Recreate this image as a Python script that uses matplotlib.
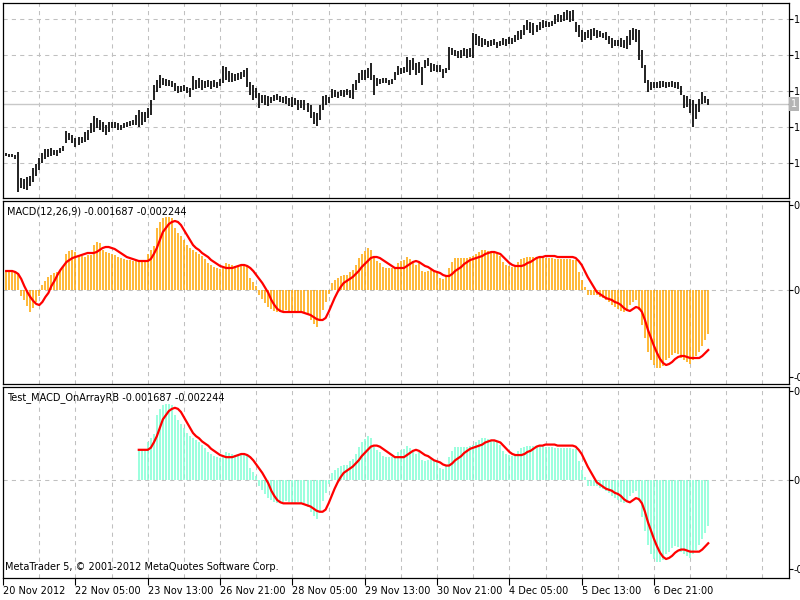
import numpy as np
import matplotlib
matplotlib.use('Agg')
import matplotlib.pyplot as plt

# price bars, one per hour
high = [1.2894, 1.2892, 1.2892, 1.2890, 1.2896, 1.2844, 1.2842, 1.2846, 1.2848, 1.2864,
        1.2872, 1.2884, 1.2894, 1.2902, 1.2902, 1.2904, 1.2900, 1.2900, 1.2904, 1.2908,
        1.2938, 1.2934, 1.2930, 1.2924, 1.2926, 1.2926, 1.2936, 1.2940, 1.2954, 1.2968,
        1.2964, 1.2960, 1.2956, 1.2950, 1.2956, 1.2956, 1.2956, 1.2954, 1.2950, 1.2954,
        1.2956, 1.2958, 1.2960, 1.2970, 1.2980, 1.2976, 1.2976, 1.2984, 1.3000, 1.3030,
        1.3040, 1.3050, 1.3044, 1.3042, 1.3040, 1.3038, 1.3034, 1.3028, 1.3028, 1.3030,
        1.3026, 1.3024, 1.3048, 1.3040, 1.3044, 1.3040, 1.3038, 1.3040, 1.3038, 1.3040,
        1.3036, 1.3042, 1.3068, 1.3066, 1.3058, 1.3054, 1.3052, 1.3054, 1.3056, 1.3060,
        1.3064, 1.3036, 1.3030, 1.3024, 1.3014, 1.3010, 1.3010, 1.3008, 1.3006, 1.3010,
        1.3012, 1.3008, 1.3006, 1.3008, 1.3004, 1.3006, 1.3004, 1.3000, 1.3000, 1.3000,
        1.2994, 1.2990, 1.2976, 1.2974, 1.2990, 1.3008, 1.3010, 1.3006, 1.3022, 1.3020,
        1.3016, 1.3020, 1.3020, 1.3022, 1.3020, 1.3032, 1.3040, 1.3054, 1.3060, 1.3060,
        1.3064, 1.3074, 1.3050, 1.3044, 1.3042, 1.3044, 1.3044, 1.3040, 1.3042, 1.3056,
        1.3068, 1.3064, 1.3066, 1.3086, 1.3080, 1.3084, 1.3074, 1.3076, 1.3066, 1.3080,
        1.3084, 1.3074, 1.3072, 1.3070, 1.3070, 1.3062, 1.3064, 1.3106, 1.3104, 1.3100,
        1.3098, 1.3100, 1.3104, 1.3102, 1.3104, 1.3134, 1.3132, 1.3128, 1.3124, 1.3122,
        1.3118, 1.3120, 1.3122, 1.3116, 1.3118, 1.3124, 1.3122, 1.3126, 1.3124, 1.3130,
        1.3138, 1.3140, 1.3150, 1.3160, 1.3156, 1.3154, 1.3150, 1.3156, 1.3160, 1.3158,
        1.3156, 1.3158, 1.3170, 1.3172, 1.3170, 1.3176, 1.3180, 1.3178, 1.3180, 1.3156,
        1.3150, 1.3140, 1.3136, 1.3140, 1.3142, 1.3144, 1.3140, 1.3138, 1.3134, 1.3136,
        1.3128, 1.3124, 1.3120, 1.3120, 1.3124, 1.3120, 1.3128, 1.3140, 1.3144, 1.3142,
        1.3140, 1.3100, 1.3070, 1.3040, 1.3036, 1.3036, 1.3036, 1.3038, 1.3038, 1.3036,
        1.3036, 1.3038, 1.3036, 1.3036, 1.3028, 1.3010, 1.3008, 1.3002, 1.3000, 1.2992,
        1.3002, 1.3016, 1.3008, 1.3002]
low = [1.2888, 1.2886, 1.2886, 1.2882, 1.2816, 1.2824, 1.2822, 1.2820, 1.2828, 1.2836,
       1.2848, 1.2860, 1.2874, 1.2882, 1.2886, 1.2888, 1.2890, 1.2888, 1.2894, 1.2898,
       1.2914, 1.2920, 1.2914, 1.2906, 1.2910, 1.2914, 1.2916, 1.2920, 1.2934, 1.2936,
       1.2944, 1.2940, 1.2936, 1.2930, 1.2936, 1.2944, 1.2944, 1.2940, 1.2940, 1.2944,
       1.2946, 1.2948, 1.2950, 1.2950, 1.2946, 1.2950, 1.2956, 1.2964, 1.2970, 1.3000,
       1.3016, 1.3024, 1.3030, 1.3028, 1.3028, 1.3026, 1.3018, 1.3014, 1.3016, 1.3018,
       1.3014, 1.3006, 1.3020, 1.3022, 1.3024, 1.3020, 1.3024, 1.3026, 1.3022, 1.3026,
       1.3024, 1.3028, 1.3034, 1.3040, 1.3036, 1.3036, 1.3038, 1.3040, 1.3042, 1.3046,
       1.3026, 1.3010, 1.3000, 1.3004, 1.2984, 1.2994, 1.2990, 1.2988, 1.2994, 1.2998,
       1.3000, 1.2996, 1.2994, 1.2992, 1.2988, 1.2986, 1.2990, 1.2980, 1.2984, 1.2980,
       1.2976, 1.2964, 1.2952, 1.2948, 1.2960, 1.2980, 1.2990, 1.2994, 1.3004, 1.3006,
       1.3004, 1.3008, 1.3006, 1.3010, 1.3004, 1.3002, 1.3020, 1.3034, 1.3040, 1.3040,
       1.3044, 1.3040, 1.3010, 1.3028, 1.3032, 1.3034, 1.3034, 1.3030, 1.3032, 1.3040,
       1.3050, 1.3052, 1.3054, 1.3056, 1.3050, 1.3060, 1.3050, 1.3054, 1.3030, 1.3064,
       1.3068, 1.3056, 1.3058, 1.3056, 1.3056, 1.3044, 1.3054, 1.3060, 1.3090, 1.3088,
       1.3084, 1.3084, 1.3088, 1.3084, 1.3086, 1.3084, 1.3110, 1.3108, 1.3106, 1.3110,
       1.3106, 1.3108, 1.3110, 1.3104, 1.3108, 1.3110, 1.3108, 1.3112, 1.3112, 1.3116,
       1.3120, 1.3122, 1.3130, 1.3140, 1.3134, 1.3130, 1.3136, 1.3140, 1.3144, 1.3146,
       1.3146, 1.3148, 1.3152, 1.3156, 1.3156, 1.3158, 1.3160, 1.3156, 1.3158, 1.3136,
       1.3126, 1.3116, 1.3120, 1.3124, 1.3120, 1.3128, 1.3124, 1.3126, 1.3124, 1.3120,
       1.3112, 1.3104, 1.3108, 1.3108, 1.3106, 1.3104, 1.3102, 1.3110, 1.3120, 1.3116,
       1.3080, 1.3064, 1.3034, 1.3016, 1.3020, 1.3024, 1.3024, 1.3024, 1.3026, 1.3024,
       1.3026, 1.3026, 1.3024, 1.3022, 1.3010, 1.2984, 1.2986, 1.2974, 1.2946, 1.2962,
       1.2976, 1.2992, 1.2994, 1.2990]
bid = 1.2992
price_levels = [1.3162, 1.3090, 1.3018, 1.2946, 1.2874]

# MACD(12,26,9) main (histogram) and signal line, in units of 0.001
macd_main = [0.76, 0.76, 0.76, 0.72, 0.68, -0.24, -0.40, -0.64, -0.88, -0.72,
             -0.48, -0.24, 0.20, 0.36, 0.52, 0.60, 0.68, 0.72, 0.80, 0.96,
             1.44, 1.56, 1.60, 1.52, 1.36, 1.36, 1.32, 1.40, 1.40, 1.80,
             1.92, 1.88, 1.60, 1.52, 1.48, 1.44, 1.40, 1.32, 1.28, 1.24,
             1.20, 1.20, 1.16, 1.16, 1.16, 1.16, 1.16, 1.44, 1.60, 1.76,
             2.48, 2.72, 2.88, 2.92, 2.92, 2.88, 2.48, 2.28, 2.16, 2.00,
             1.80, 1.68, 1.60, 1.52, 1.44, 1.36, 1.24, 1.08, 1.00, 0.92,
             0.88, 0.84, 0.88, 1.08, 1.04, 1.00, 0.96, 0.96, 1.00, 1.00,
             0.96, 0.48, 0.32, 0.16, -0.20, -0.36, -0.52, -0.68, -0.76, -0.84,
             -0.88, -0.88, -0.84, -0.80, -0.84, -0.88, -0.88, -0.84, -0.88, -0.88,
             -1.00, -1.20, -1.36, -1.48, -1.20, -0.80, -0.48, -0.16, 0.28, 0.40,
             0.48, 0.56, 0.60, 0.60, 0.72, 0.80, 1.00, 1.28, 1.44, 1.56,
             1.68, 1.60, 1.28, 1.16, 1.08, 0.92, 0.88, 0.88, 0.88, 0.92,
             1.08, 1.16, 1.20, 1.32, 1.24, 1.08, 1.00, 1.08, 0.76, 0.72,
             0.76, 0.80, 0.76, 0.68, 0.48, 0.44, 0.56, 0.88, 1.12, 1.28,
             1.28, 1.28, 1.28, 1.28, 1.32, 1.36, 1.44, 1.52, 1.60, 1.60,
             1.56, 1.52, 1.52, 1.44, 1.36, 1.12, 1.00, 0.96, 0.92, 1.00,
             1.12, 1.24, 1.28, 1.32, 1.32, 1.32, 1.32, 1.32, 1.32, 1.28,
             1.28, 1.28, 1.24, 1.24, 1.24, 1.24, 1.24, 1.24, 1.20, 1.20,
             0.72, 0.40, 0.12, -0.20, -0.20, -0.20, -0.20, -0.28, -0.32, -0.40,
             -0.48, -0.60, -0.68, -0.76, -0.84, -0.88, -0.84, -0.60, -0.48, -0.40,
             -0.80, -1.40, -1.92, -2.48, -2.80, -3.00, -3.12, -3.12, -3.04, -2.80,
             -2.72, -2.60, -2.52, -2.56, -2.72, -2.80, -2.88, -2.96, -2.80, -2.64,
             -2.48, -2.24, -2.00, -1.76]
macd_signal = [0.76, 0.76, 0.76, 0.72, 0.64, 0.44, 0.16, -0.08, -0.28, -0.44,
               -0.56, -0.60, -0.48, -0.28, -0.12, 0.16, 0.36, 0.60, 0.80, 0.96,
               1.12, 1.20, 1.28, 1.32, 1.36, 1.40, 1.44, 1.48, 1.48, 1.48,
               1.52, 1.60, 1.68, 1.72, 1.72, 1.68, 1.64, 1.56, 1.48, 1.40,
               1.32, 1.28, 1.24, 1.20, 1.16, 1.16, 1.16, 1.16, 1.24, 1.44,
               1.68, 2.00, 2.32, 2.48, 2.64, 2.72, 2.76, 2.72, 2.60, 2.40,
               2.20, 2.00, 1.80, 1.68, 1.60, 1.48, 1.40, 1.32, 1.20, 1.12,
               1.04, 0.96, 0.92, 0.88, 0.88, 0.88, 0.92, 0.96, 1.00, 1.00,
               0.96, 0.88, 0.76, 0.60, 0.44, 0.28, 0.08, -0.12, -0.40, -0.60,
               -0.76, -0.84, -0.88, -0.88, -0.88, -0.88, -0.88, -0.88, -0.88, -0.92,
               -0.96, -1.00, -1.08, -1.16, -1.20, -1.20, -1.12, -0.88, -0.60, -0.32,
               -0.08, 0.12, 0.28, 0.36, 0.44, 0.52, 0.64, 0.76, 0.92, 1.04,
               1.16, 1.28, 1.32, 1.32, 1.28, 1.20, 1.12, 1.04, 0.96, 0.88,
               0.88, 0.88, 0.88, 0.96, 1.04, 1.12, 1.16, 1.12, 1.04, 0.96,
               0.92, 0.84, 0.76, 0.72, 0.68, 0.60, 0.56, 0.56, 0.64, 0.76,
               0.84, 0.92, 1.04, 1.12, 1.20, 1.24, 1.28, 1.32, 1.36, 1.44,
               1.48, 1.52, 1.52, 1.48, 1.44, 1.32, 1.20, 1.08, 1.00, 0.96,
               0.96, 0.96, 1.00, 1.08, 1.12, 1.20, 1.28, 1.32, 1.32, 1.36,
               1.36, 1.36, 1.36, 1.32, 1.32, 1.32, 1.32, 1.32, 1.32, 1.28,
               1.16, 1.00, 0.76, 0.52, 0.32, 0.12, -0.08, -0.16, -0.24, -0.32,
               -0.36, -0.40, -0.48, -0.52, -0.60, -0.72, -0.80, -0.84, -0.76, -0.68,
               -0.72, -0.88, -1.20, -1.60, -1.92, -2.24, -2.52, -2.76, -2.92, -3.00,
               -2.96, -2.88, -2.76, -2.68, -2.64, -2.64, -2.68, -2.72, -2.72, -2.72,
               -2.72, -2.64, -2.52, -2.40]
test_start = 44  # first bar the OnArray version has values for

# right-hand scale marks; the terminal window cuts the labels to their first character
macd_ticks = [3.40, 0.0, -3.48]
test_ticks = [3.40, 0.0, -3.40]
scale_labels = ['0', '0', '-0']
price_labels = ['1', '1', '1', '1', '1']

time_ticks = [23, 47, 71, 95, 119, 143, 167, 191, 215]
time_labels = ['22 Nov 05:00', '23 Nov 13:00', '26 Nov 21:00', '28 Nov 05:00',
               '29 Nov 13:00', '30 Nov 21:00', '4 Dec 05:00', '5 Dec 13:00', '6 Dec 21:00']
first_label = '20 Nov 2012'

x = np.arange(len(high))
main = np.array(macd_main) * 1e-3
signal = np.array(macd_signal) * 1e-3

fig = plt.figure(figsize=(8, 6), dpi=100)
ax1 = fig.add_axes([0.00375, 0.67, 0.9825, 0.325])
ax2 = fig.add_axes([0.00375, 0.36, 0.9825, 0.305])
ax3 = fig.add_axes([0.00375, 0.0375, 0.9825, 0.3175])

grid_kw = dict(color='#c0c0c0', lw=0.75, ls=(0, (4, 4)), zorder=0)
xmin, xmax = -1.06, 259.8

for ax in (ax1, ax2, ax3):
    ax.set_xlim(xmin, xmax)
    for g in range(11, 260, 12):
        ax.axvline(g, **grid_kw)
    for s in ax.spines.values():
        s.set_color('black')
        s.set_linewidth(0.9)
    ax.yaxis.tick_right()
    ax.tick_params(axis='y', direction='out', length=3, width=0.8, pad=0.5, labelsize=7)
    ax.tick_params(axis='x', bottom=False, labelbottom=False)

# price bars
for p in price_levels:
    ax1.axhline(p, **grid_kw)
ax1.axhline(bid, color='#c8c8c8', lw=1.0, zorder=1)
ax1.vlines(x, low, high, color='#101010', lw=1.3, zorder=2)
ax1.set_ylim(1.2804, 1.3194)
ax1.set_yticks(price_levels)
ax1.set_yticklabels(price_labels)
fig.text(791 / 800, 1 - 104 / 600, '1', fontsize=7, color='white', va='center',
         bbox=dict(facecolor='#b4b4b4', edgecolor='none', pad=1.2))

# MACD panel
ax2.axhline(0, **grid_kw)
ax2.vlines(x, 0, main, color='#ffa500', lw=1.1, zorder=2)
ax2.plot(x, signal, color='#ff0000', lw=1.6, zorder=3)
ax2.set_ylim(-3.76e-3, 3.56e-3)
ax2.set_yticks(np.array(macd_ticks) * 1e-3)
ax2.set_yticklabels(scale_labels)

# Test_MACD_OnArrayRB panel
xt = x[test_start:]
ax3.axhline(0, **grid_kw)
ax3.vlines(xt, 0, main[test_start:], color='#7fffd4', lw=1.1, zorder=2)
ax3.plot(xt, signal[test_start:], color='#ff0000', lw=1.6, zorder=3)
ax3.set_ylim(-3.705e-3, 3.553e-3)
ax3.set_yticks(np.array(test_ticks) * 1e-3)
ax3.set_yticklabels(scale_labels)

ax3.tick_params(axis='x', bottom=True, labelbottom=True, direction='out', length=5,
                width=0.8, pad=1, labelsize=7)
ax3.set_xticks([xmin] + time_ticks)
ax3.set_xticklabels([first_label] + time_labels)
for lab in ax3.get_xticklabels():
    lab.set_ha('left')

fig.text(7 / 800, 1 - 211 / 600, 'MACD(12,26,9) -0.001687 -0.002244', fontsize=7, va='center')
fig.text(7 / 800, 1 - 398 / 600, 'Test_MACD_OnArrayRB -0.001687 -0.002244', fontsize=7, va='center')
fig.text(5 / 800, 1 - 567 / 600, 'MetaTrader 5, \u00a9 2001-2012 MetaQuotes Software Corp.',
         fontsize=7, va='center')

fig.savefig('out.png', dpi=100)
